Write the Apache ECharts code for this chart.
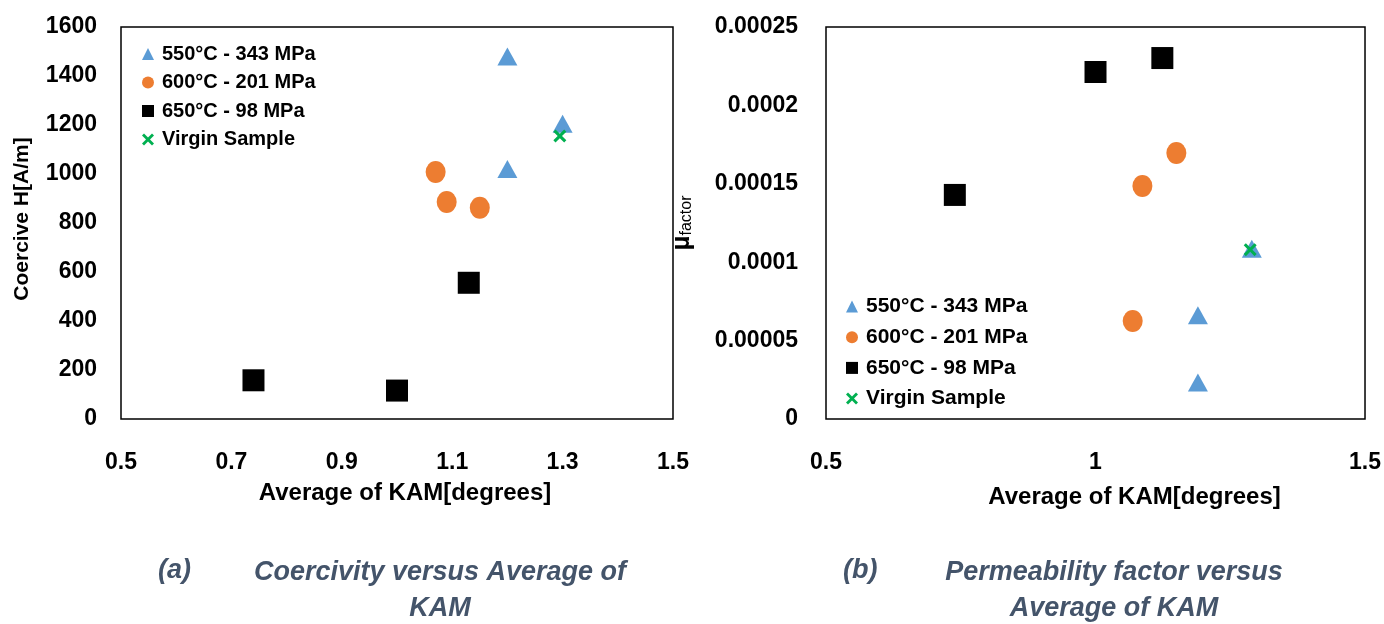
<!DOCTYPE html>
<html>
<head>
<meta charset="utf-8">
<script src="https://cdn.jsdelivr.net/npm/echarts@6/dist/echarts.min.js"></script>
<style>
  html, body { margin: 0; padding: 0; background: #fff; }
  #chart { width: 1384px; height: 624px; }
</style>
</head>
<body>
<div id="chart"></div>
<script>
// Series names shared by both panels
const seriesNames = ['550°C - 343 MPa', '600°C - 201 MPa', '650°C - 98 MPa', 'Virgin Sample'];

// Panel (a): coercive field vs average KAM  [KAM, H]
const coerc550 = [[1.2, 1480], [1.3, 1205], [1.2, 1020]];
const coerc600 = [[1.07, 1008], [1.09, 886], [1.15, 862]];
const coerc650 = [[1.13, 556], [0.74, 158], [1.0, 116]];
const coercVirgin = [[1.295, 1155]];

// Panel (b): permeability factor vs average KAM  [KAM, mu]
const perm550 = [[1.19, 0.0000662], [1.19, 0.0000232], [1.29, 0.0001085]];
const perm600 = [[1.15, 0.0001696], [1.087, 0.0001486], [1.069, 0.0000625]];
const perm650 = [[1.0, 0.0002213], [1.124, 0.0002302], [0.739, 0.0001429]];
const permVirgin = [[1.287, 0.000108]];

// Axis ranges and tick steps
const xRange = [0.5, 1.5];
const xStepA = 0.2;
const xStepB = 0.5;
const yRangeA = [0, 1600];
const yStepA = 200;
const yRangeB = [0, 0.00025];
const yStepB = 0.00005;

// Caption texts
const captionA = ['(a)', 'Coercivity versus Average of\nKAM'];
const captionB = ['(b)', 'Permeability factor versus\nAverage of KAM'];

const BLUE = '#5B9BD5', ORANGE = '#ED7D31', BLACK = '#000000', GREEN = '#00B050';
const FONT = '"Liberation Sans", Arial, sans-serif';
const CROSS = 'path://M2,0 L6,4 L10,0 L12,2 L8,6 L12,10 L10,12 L6,8 L2,12 L0,10 L4,6 L0,2 Z';

const styleOf = [
  { symbol: 'triangle', symbolSize: [20, 18], color: BLUE },
  { symbol: 'circle', symbolSize: [20, 22], color: ORANGE },
  { symbol: 'rect', symbolSize: [22, 22], color: BLACK },
  { symbol: CROSS, symbolSize: [13, 13], color: GREEN }
];

function makeSeries(dataSets, axisIndex) {
  return dataSets.map((d, i) => ({
    name: seriesNames[i],
    type: 'scatter',
    xAxisIndex: axisIndex,
    yAxisIndex: axisIndex,
    symbol: styleOf[i].symbol,
    symbolSize: styleOf[i].symbolSize,
    itemStyle: { color: styleOf[i].color, opacity: 1 },
    z: i === 3 ? 5 : 3,
    data: d
  }));
}

function legendAt(left, top, fontSize, gap) {
  return {
    orient: 'vertical',
    left: left,
    top: top,
    itemWidth: 12,
    itemHeight: 12,
    itemGap: gap,
    padding: 0,
    data: seriesNames.map((n, i) => ({
      name: n,
      icon: styleOf[i].symbol,
      itemStyle: { color: styleOf[i].color }
    })),
    textStyle: { fontFamily: FONT, fontWeight: 'bold', fontSize: fontSize, color: '#000', padding: [0, 0, 0, 3] }
  };
}

const axisLabelBase = { fontFamily: FONT, fontWeight: 'bold', fontSize: 23, color: '#000' };

const option = {
  animation: false,
  backgroundColor: '#fff',
  grid: [
    { left: 121, right: 711, top: 27, bottom: 205, show: true, borderColor: '#000', borderWidth: 1.5, backgroundColor: 'transparent' },
    { left: 826, right: 18, top: 27, bottom: 205, show: true, borderColor: '#000', borderWidth: 1.5, backgroundColor: 'transparent' }
  ],
  legend: [legendAt(142, 44, 20, 8.5), legendAt(846, 296, 21, 9.7)],
  xAxis: [
    {
      gridIndex: 0, type: 'value', min: xRange[0], max: xRange[1], interval: xStepA,
      axisLine: { show: false }, axisTick: { show: false }, splitLine: { show: false },
      axisLabel: Object.assign({}, axisLabelBase, { margin: 32, formatter: v => v.toFixed(1) }),
      name: 'Average of KAM[degrees]', nameLocation: 'middle', nameGap: 62,
      nameTextStyle: { fontFamily: FONT, fontWeight: 'bold', fontSize: 24, color: '#000', padding: [0, 0, 0, 16] }
    },
    {
      gridIndex: 1, type: 'value', min: xRange[0], max: xRange[1], interval: xStepB,
      axisLine: { show: false }, axisTick: { show: false }, splitLine: { show: false },
      axisLabel: Object.assign({}, axisLabelBase, { margin: 32, formatter: v => String(+v.toFixed(1)) }),
      name: 'Average of KAM[degrees]', nameLocation: 'middle', nameGap: 66,
      nameTextStyle: { fontFamily: FONT, fontWeight: 'bold', fontSize: 24, color: '#000', padding: [0, 0, 0, 78] }
    }
  ],
  yAxis: [
    {
      gridIndex: 0, type: 'value', min: yRangeA[0], max: yRangeA[1], interval: yStepA,
      axisLine: { show: false }, axisTick: { show: false }, splitLine: { show: false },
      axisLabel: Object.assign({}, axisLabelBase, { margin: 24, formatter: v => String(v) }),
      name: 'Coercive H[A/m]', nameLocation: 'middle', nameGap: 88, nameRotate: 90,
      nameTextStyle: { fontFamily: FONT, fontWeight: 'bold', fontSize: 21, color: '#000', padding: [0, 0, 0, 8] }
    },
    {
      gridIndex: 1, type: 'value', min: yRangeB[0], max: yRangeB[1], interval: yStepB,
      axisLine: { show: false }, axisTick: { show: false }, splitLine: { show: false },
      axisLabel: Object.assign({}, axisLabelBase, { margin: 28, formatter: v => String(+v.toFixed(5)) }),
      name: '{mu|µ}{sub|factor}', nameLocation: 'middle', nameGap: 131, nameRotate: 90,
      nameTextStyle: {
        fontFamily: FONT, color: '#000', padding: [0, 0, 0, 0],
        rich: {
          mu: { fontFamily: FONT, fontWeight: 'bold', fontSize: 26, color: '#000', verticalAlign: 'bottom' },
          sub: { fontFamily: FONT, fontWeight: 'normal', fontSize: 16, color: '#000', verticalAlign: 'bottom' }
        }
      }
    }
  ],
  series: [].concat(
    makeSeries([coerc550, coerc600, coerc650, coercVirgin], 0),
    makeSeries([perm550, perm600, perm650, permVirgin], 1)
  ),
  graphic: [
    { type: 'text', left: 158, top: 557, style: { text: captionA[0], fontFamily: FONT, fontStyle: 'italic', fontWeight: 'bold', fontSize: 27, fill: '#44546A' } },
    { type: 'text', x: 440, y: 555, style: { text: captionA[1], align: 'center', lineHeight: 36, fontFamily: FONT, fontStyle: 'italic', fontWeight: 'bold', fontSize: 27, fill: '#44546A' } },
    { type: 'text', left: 843, top: 557, style: { text: captionB[0], fontFamily: FONT, fontStyle: 'italic', fontWeight: 'bold', fontSize: 27, fill: '#44546A' } },
    { type: 'text', x: 1114, y: 555, style: { text: captionB[1], align: 'center', lineHeight: 36, fontFamily: FONT, fontStyle: 'italic', fontWeight: 'bold', fontSize: 27, fill: '#44546A' } }
  ]
};

const chart = echarts.init(document.getElementById('chart'));
chart.setOption(option);
</script>
</body>
</html>
